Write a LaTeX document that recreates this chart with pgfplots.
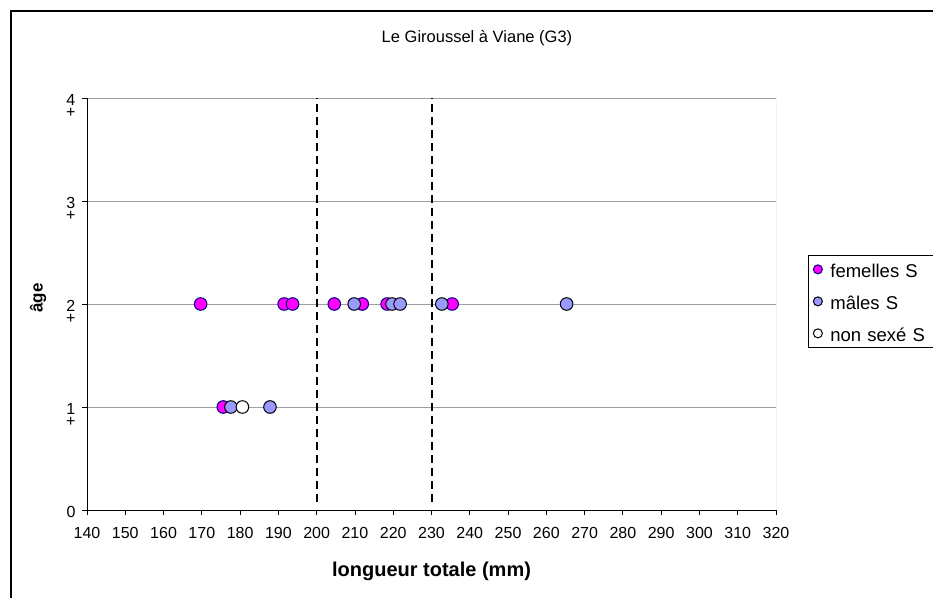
\documentclass[border=0pt]{standalone}
\usepackage{fontspec}
\setmainfont{Liberation Sans}
\usepackage{pgfplots}
\pgfplotsset{compat=1.18}
\definecolor{fem}{HTML}{FF00FF}
\definecolor{femedge}{HTML}{000080}
\definecolor{mal}{HTML}{9999FF}
\definecolor{gridgray}{HTML}{A0A0A0}
\begin{document}
\begin{tikzpicture}
\useasboundingbox (0pt,0pt) rectangle (933pt,597pt);
\draw[line width=2pt] (10.5pt,-5pt) -- (10.5pt,586pt) -- (945pt,586pt);
\begin{axis}[
  at={(87pt,87pt)}, anchor=south west,
  scale only axis, width=689pt, height=412pt,
  xmin=140, xmax=320, ymin=0, ymax=4,
  xtick={140,150,...,320},
  ytick={0,1,2,3,4},
  yticklabels={0,{1\\+},{2\\+},{3\\+},{4\\+}},
  axis x line*=bottom, axis y line*=left,
  axis line style={black, line width=1pt, -},
  every outer x axis line/.append style={-},
  every outer y axis line/.append style={-},
  tick align=outside, major tick length=5pt,
  tick style={black, line width=0.8pt},
  ymajorgrids, major grid style={gridgray, line width=0.7pt},
  /pgf/number format/assume math mode=true,
  xticklabel style={font=\fontsize{16}{19}\selectfont, yshift=-9pt},
  yticklabel style={font=\fontsize{16}{12}\selectfont, align=center, anchor=north east, yshift=7.5pt, xshift=-3pt},
  title={Le Giroussel à Viane (G3)},
  title style={at={(axis description cs:0.566,1.148)}, anchor=center, yshift=-7pt, font=\fontsize{16.5}{19}\selectfont},
  xlabel={longueur totale (mm)},
  xlabel style={at={(axis description cs:0.5,-0.150)}, anchor=center, font=\fontsize{20}{24}\selectfont\bfseries},
  ylabel={âge},
  ylabel style={at={(axis description cs:-0.0711,0.5146)}, anchor=center, font=\fontsize{17}{20}\selectfont\bfseries},
  legend style={at={(axis description cs:1.0464,0.619)}, anchor=north west, draw=black, line width=0.8pt,
    font=\fontsize{18.5}{21}\selectfont, row sep=14pt, inner xsep=5pt, inner ysep=5pt,
    nodes={text width=115pt, align=left, inner sep=1pt, text height=16pt, text depth=0pt}, cells={anchor=west},
    /tikz/every odd column/.append style={column sep=7pt}},
  legend image code/.code={\draw[mark repeat=2,mark phase=2,#1,mark size=4.5pt] plot coordinates {(0pt,0pt)(5pt,0pt)(10pt,0pt)};},
]
\addplot[black, line width=2pt, dash pattern=on 8pt off 5pt, forget plot] coordinates {(200,0.08) (200,4)};
\addplot[black, line width=2pt, dash pattern=on 8pt off 5pt, forget plot] coordinates {(230,0.08) (230,4)};
\addplot[only marks, mark=*, mark size=6.3pt, mark options={fill=fem, draw=femedge, line width=1pt}]
  coordinates {(169.7,2) (191.5,2) (193.7,2) (204.6,2) (211.9,2) (218.4,2) (235.4,2) (175.6,1)};
\addlegendentry{femelles S}
\addplot[only marks, mark=*, mark size=6.3pt, mark options={fill=mal, draw=black, line width=1pt}]
  coordinates {(209.8,2) (219.7,2) (221.8,2) (232.7,2) (265.3,2) (177.6,1) (187.8,1)};
\addlegendentry{mâles S}
\addplot[only marks, mark=*, mark size=6.3pt, mark options={fill=white, draw=black, line width=1pt}]
  coordinates {(180.6,1)};
\addlegendentry{non sexé S}
\draw[gridgray, line width=1pt] (rel axis cs:1,0) -- (rel axis cs:1,1);
\end{axis}
\end{tikzpicture}
\end{document}
